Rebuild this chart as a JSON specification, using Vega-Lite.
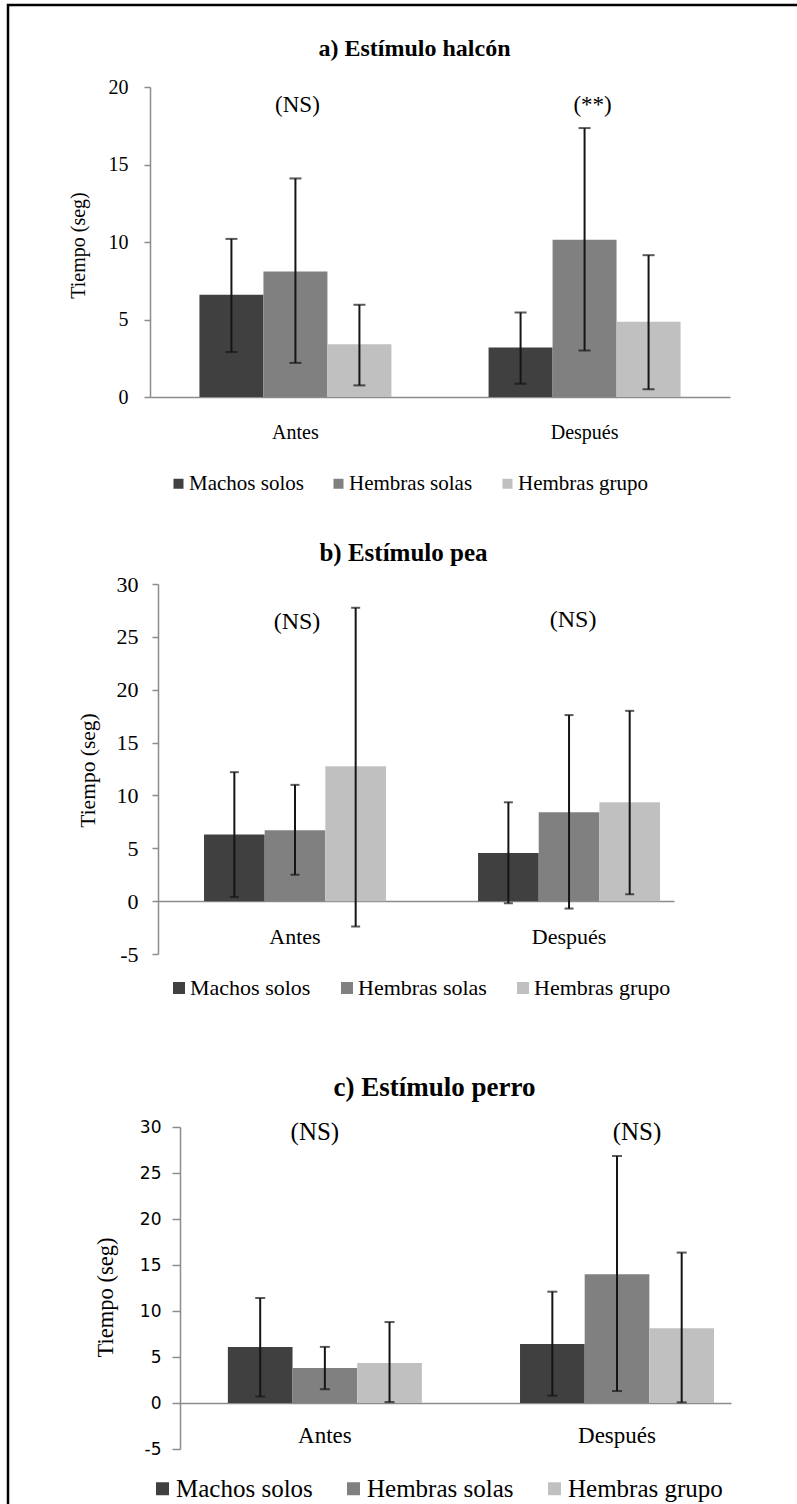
{
  "$schema": "https://vega.github.io/schema/vega-lite/v6.json",
  "width": 795,
  "height": 1505,
  "autosize": {"type": "none"},
  "padding": {"left": 8, "top": 5, "right": -6, "bottom": -6},
  "background": "white",
  "config": {
    "view": {"stroke": "black", "strokeWidth": 2.5},
    "axis": {"labelFont": "Liberation Serif", "titleFont": "Liberation Serif", "labelColor": "#000", "titleColor": "#000", "titleFontWeight": "normal", "grid": false, "domainColor": "#8c8c8c", "tickColor": "#8c8c8c", "domainWidth": 1.5, "tickWidth": 1.5},
    "legend": {"labelFont": "Liberation Serif", "labelColor": "#000", "padding": 0, "symbolType": "square", "symbolStrokeWidth": 0, "orient": "none", "direction": "horizontal", "title": null},
    "text": {"font": "Liberation Serif", "color": "#000"}
  },
  "datasets": {
    "halcon": [
      {"momento": "Antes", "grupo": "Machos solos", "media": 6.6, "lo": 2.9, "hi": 10.2},
      {"momento": "Antes", "grupo": "Hembras solas", "media": 8.1, "lo": 2.2, "hi": 14.1},
      {"momento": "Antes", "grupo": "Hembras grupo", "media": 3.4, "lo": 0.75, "hi": 5.95},
      {"momento": "Después", "grupo": "Machos solos", "media": 3.2, "lo": 0.85, "hi": 5.45},
      {"momento": "Después", "grupo": "Hembras solas", "media": 10.15, "lo": 3.0, "hi": 17.35},
      {"momento": "Después", "grupo": "Hembras grupo", "media": 4.85, "lo": 0.5, "hi": 9.15}
    ],
    "pea": [
      {"momento": "Antes", "grupo": "Machos solos", "media": 6.3, "lo": 0.4, "hi": 12.2},
      {"momento": "Antes", "grupo": "Hembras solas", "media": 6.7, "lo": 2.5, "hi": 11.0},
      {"momento": "Antes", "grupo": "Hembras grupo", "media": 12.75, "lo": -2.4, "hi": 27.75},
      {"momento": "Después", "grupo": "Machos solos", "media": 4.55, "lo": -0.2, "hi": 9.35},
      {"momento": "Después", "grupo": "Hembras solas", "media": 8.42, "lo": -0.7, "hi": 17.6},
      {"momento": "Después", "grupo": "Hembras grupo", "media": 9.35, "lo": 0.65, "hi": 18.0}
    ],
    "perro": [
      {"momento": "Antes", "grupo": "Machos solos", "media": 6.1, "lo": 0.7, "hi": 11.4},
      {"momento": "Antes", "grupo": "Hembras solas", "media": 3.8, "lo": 1.5, "hi": 6.1},
      {"momento": "Antes", "grupo": "Hembras grupo", "media": 4.35, "lo": 0.1, "hi": 8.8},
      {"momento": "Después", "grupo": "Machos solos", "media": 6.4, "lo": 0.8, "hi": 12.1},
      {"momento": "Después", "grupo": "Hembras solas", "media": 14.0, "lo": 1.3, "hi": 26.85},
      {"momento": "Después", "grupo": "Hembras grupo", "media": 8.12, "lo": 0.07, "hi": 16.35}
    ],
    "notas_a": [{"momento": "Antes", "nota": "(NS)"}, {"momento": "Después", "nota": "(**)"}],
    "notas_b": [{"momento": "Antes", "nota": "(NS)"}, {"momento": "Después", "nota": "(NS)"}],
    "notas_c": [{"momento": "Antes", "nota": "(NS)"}, {"momento": "Después", "nota": "(NS)"}]
  },
  "layer": [
    {
      "data": {"name": "halcon"},
      "layer": [
        {
          "mark": {"type": "bar"},
          "encoding": {
            "x": {"field": "momento", "type": "nominal", "sort": ["Antes", "Después"],
              "scale": {"range": [142, 722], "paddingInner": 0.336, "paddingOuter": 0.171, "align": 0.5},
              "axis": {"orient": "bottom", "offset": -1113, "ticks": false, "tickSize": 0, "labelAngle": 0, "labelFont": "Liberation Serif", "labelFontSize": 20, "labelPadding": 35, "labelBaseline": "middle", "title": "a) Estímulo halcón", "titleFont": "Liberation Serif", "titleFontSize": 24, "titleFontWeight": "bold", "titleX": 406, "titleY": -349, "titleBaseline": "middle", "titleAlign": "center"}},
            "xOffset": {"field": "grupo", "type": "nominal", "sort": ["Machos solos", "Hembras solas", "Hembras grupo"]},
            "y": {"field": "media", "type": "quantitative",
              "scale": {"domain": [0, 20], "range": [392, 82], "nice": false, "zero": false},
              "axis": {"orient": "left", "values": [0, 5, 10, 15, 20], "labelExpr": "'' + datum.value", "offset": -142, "tickSize": 6, "labelPadding": 16, "labelFont": "Liberation Serif", "labelFontSize": 20, "title": "Tiempo (seg)", "titleFont": "Liberation Serif", "titleFontSize": 20, "titleX": -72, "titleY": 240, "titleBaseline": "middle", "titleAlign": "center"}},
            "color": {"field": "grupo", "type": "nominal", "sort": ["Machos solos", "Hembras solas", "Hembras grupo"],
              "scale": {"domain": ["Machos solos", "Hembras solas", "Hembras grupo"], "range": ["#404040", "#808080", "#c0c0c0"]},
              "legend": {"orient": "none", "direction": "horizontal", "legendX": 160, "legendY": 468, "labelFont": "Liberation Serif", "labelFontSize": 21, "symbolSize": 100, "columnPadding": 24, "labelOffset": 0}}
          }
        },
        {
          "mark": {"type": "rule", "color": "#151515", "strokeWidth": 2},
          "encoding": {
            "x": {"field": "momento", "type": "nominal", "sort": ["Antes", "Después"]},
            "xOffset": {"field": "grupo", "type": "nominal", "sort": ["Machos solos", "Hembras solas", "Hembras grupo"]},
            "y": {"field": "lo", "type": "quantitative"},
            "y2": {"field": "hi"}
          }
        },
        {
          "mark": {"type": "tick", "color": "#151515", "thickness": 2, "size": 12},
          "encoding": {
            "x": {"field": "momento", "type": "nominal", "sort": ["Antes", "Después"]},
            "xOffset": {"field": "grupo", "type": "nominal", "sort": ["Machos solos", "Hembras solas", "Hembras grupo"]},
            "y": {"field": "hi", "type": "quantitative"}
          }
        },
        {
          "mark": {"type": "tick", "color": "#151515", "thickness": 2, "size": 12},
          "encoding": {
            "x": {"field": "momento", "type": "nominal", "sort": ["Antes", "Después"]},
            "xOffset": {"field": "grupo", "type": "nominal", "sort": ["Machos solos", "Hembras solas", "Hembras grupo"]},
            "y": {"field": "lo", "type": "quantitative"}
          }
        },
        {
          "data": {"name": "notas_a"},
          "transform": [{"filter": "datum.momento == 'Antes'"}],
          "mark": {"type": "text", "fontSize": 23, "baseline": "middle", "font": "Liberation Serif", "dx": 2},
          "encoding": {
            "x": {"field": "momento", "type": "nominal", "sort": ["Antes", "Después"]},
            "y": {"datum": 18.84},
            "text": {"field": "nota"}
          }
        },
        {
          "data": {"name": "notas_a"},
          "transform": [{"filter": "datum.momento == 'Después'"}],
          "mark": {"type": "text", "fontSize": 23, "baseline": "middle", "font": "Liberation Serif", "dx": 8},
          "encoding": {
            "x": {"field": "momento", "type": "nominal", "sort": ["Antes", "Después"]},
            "y": {"datum": 18.84},
            "text": {"field": "nota"}
          }
        }
      ]
    },
    {
      "data": {"name": "pea"},
      "layer": [
        {
          "mark": {"type": "bar"},
          "encoding": {
            "x": {"field": "momento", "type": "nominal", "sort": ["Antes", "Después"],
              "scale": {"range": [150, 666], "paddingInner": 0.336, "paddingOuter": 0.1095, "align": 0.767},
              "axis": {"orient": "bottom", "offset": -609, "ticks": false, "tickSize": 0, "labelAngle": 0, "labelFont": "Liberation Serif", "labelFontSize": 22, "labelPadding": 35, "labelBaseline": "middle", "title": "b) Estímulo pea", "titleFont": "Liberation Serif", "titleFontSize": 25, "titleFontWeight": "bold", "titleX": 395, "titleY": -349, "titleBaseline": "middle", "titleAlign": "center"}},
            "xOffset": {"field": "grupo", "type": "nominal", "sort": ["Machos solos", "Hembras solas", "Hembras grupo"]},
            "y": {"field": "media", "type": "quantitative",
              "scale": {"domain": [-5, 30], "range": [949, 579], "nice": false, "zero": false},
              "axis": {"orient": "left", "values": [-5, 0, 5, 10, 15, 20, 25, 30], "labelExpr": "'' + datum.value", "offset": -150, "tickSize": 6, "labelPadding": 14, "labelFont": "Liberation Serif", "labelFontSize": 22, "title": "Tiempo (seg)", "titleFont": "Liberation Serif", "titleFontSize": 21.5, "titleX": -70, "titleY": 765, "titleBaseline": "middle", "titleAlign": "center"}},
            "color": {"field": "grupo", "type": "nominal", "sort": ["Machos solos", "Hembras solas", "Hembras grupo"],
              "scale": {"domain": ["Machos solos", "Hembras solas", "Hembras grupo"], "range": ["#404040", "#808080", "#c0c0c0"]},
              "legend": {"orient": "none", "direction": "horizontal", "legendX": 160, "legendY": 972, "labelFont": "Liberation Serif", "labelFontSize": 22, "symbolSize": 144, "columnPadding": 25, "labelOffset": 0}}
          }
        },
        {
          "mark": {"type": "rule", "color": "#151515", "strokeWidth": 2},
          "encoding": {
            "x": {"field": "momento", "type": "nominal", "sort": ["Antes", "Después"]},
            "xOffset": {"field": "grupo", "type": "nominal", "sort": ["Machos solos", "Hembras solas", "Hembras grupo"]},
            "y": {"field": "lo", "type": "quantitative"},
            "y2": {"field": "hi"}
          }
        },
        {
          "mark": {"type": "tick", "color": "#151515", "thickness": 2, "size": 9},
          "encoding": {
            "x": {"field": "momento", "type": "nominal", "sort": ["Antes", "Después"]},
            "xOffset": {"field": "grupo", "type": "nominal", "sort": ["Machos solos", "Hembras solas", "Hembras grupo"]},
            "y": {"field": "hi", "type": "quantitative"}
          }
        },
        {
          "mark": {"type": "tick", "color": "#151515", "thickness": 2, "size": 9},
          "encoding": {
            "x": {"field": "momento", "type": "nominal", "sort": ["Antes", "Después"]},
            "xOffset": {"field": "grupo", "type": "nominal", "sort": ["Machos solos", "Hembras solas", "Hembras grupo"]},
            "y": {"field": "lo", "type": "quantitative"}
          }
        },
        {
          "data": {"name": "notas_b"},
          "transform": [{"filter": "datum.momento == 'Antes'"}],
          "mark": {"type": "text", "fontSize": 24, "baseline": "middle", "font": "Liberation Serif", "dx": 2},
          "encoding": {
            "x": {"field": "momento", "type": "nominal", "sort": ["Antes", "Después"]},
            "y": {"datum": 26.4},
            "text": {"field": "nota"}
          }
        },
        {
          "data": {"name": "notas_b"},
          "transform": [{"filter": "datum.momento == 'Después'"}],
          "mark": {"type": "text", "fontSize": 24, "baseline": "middle", "font": "Liberation Serif", "dx": 4},
          "encoding": {
            "x": {"field": "momento", "type": "nominal", "sort": ["Antes", "Después"]},
            "y": {"datum": 26.6},
            "text": {"field": "nota"}
          }
        }
      ]
    },
    {
      "data": {"name": "perro"},
      "layer": [
        {
          "mark": {"type": "bar"},
          "encoding": {
            "x": {"field": "momento", "type": "nominal", "sort": ["Antes", "Después"],
              "scale": {"range": [172, 723], "paddingInner": 0.336, "paddingOuter": 0.111, "align": 0.738},
              "axis": {"orient": "bottom", "offset": -107, "ticks": false, "tickSize": 0, "labelAngle": 0, "labelFont": "Liberation Serif", "labelFontSize": 23, "labelPadding": 32, "labelBaseline": "middle", "title": "c) Estímulo perro", "titleFont": "Liberation Serif", "titleFontSize": 27, "titleFontWeight": "bold", "titleX": 426, "titleY": -316, "titleBaseline": "middle", "titleAlign": "center"}},
            "xOffset": {"field": "grupo", "type": "nominal", "sort": ["Machos solos", "Hembras solas", "Hembras grupo"]},
            "y": {"field": "media", "type": "quantitative",
              "scale": {"domain": [-5, 30], "range": [1444, 1122], "nice": false, "zero": false},
              "axis": {"orient": "left", "values": [-5, 0, 5, 10, 15, 20, 25, 30], "labelExpr": "'' + datum.value", "offset": -172, "tickSize": 8, "labelPadding": 11, "labelFont": "DejaVu Sans", "labelFontSize": 17, "title": "Tiempo (seg)", "titleFont": "Liberation Serif", "titleFontSize": 22.5, "titleX": -75, "titleY": 1292, "titleBaseline": "middle", "titleAlign": "center"}},
            "color": {"field": "grupo", "type": "nominal", "sort": ["Machos solos", "Hembras solas", "Hembras grupo"],
              "scale": {"domain": ["Machos solos", "Hembras solas", "Hembras grupo"], "range": ["#404040", "#808080", "#c0c0c0"]},
              "legend": {"orient": "none", "direction": "horizontal", "legendX": 142, "legendY": 1471, "labelFont": "Liberation Serif", "labelFontSize": 25, "symbolSize": 169, "columnPadding": 28, "labelOffset": 1}}
          }
        },
        {
          "mark": {"type": "rule", "color": "#151515", "strokeWidth": 2},
          "encoding": {
            "x": {"field": "momento", "type": "nominal", "sort": ["Antes", "Después"]},
            "xOffset": {"field": "grupo", "type": "nominal", "sort": ["Machos solos", "Hembras solas", "Hembras grupo"]},
            "y": {"field": "lo", "type": "quantitative"},
            "y2": {"field": "hi"}
          }
        },
        {
          "mark": {"type": "tick", "color": "#151515", "thickness": 2, "size": 10},
          "encoding": {
            "x": {"field": "momento", "type": "nominal", "sort": ["Antes", "Después"]},
            "xOffset": {"field": "grupo", "type": "nominal", "sort": ["Machos solos", "Hembras solas", "Hembras grupo"]},
            "y": {"field": "hi", "type": "quantitative"}
          }
        },
        {
          "mark": {"type": "tick", "color": "#151515", "thickness": 2, "size": 10},
          "encoding": {
            "x": {"field": "momento", "type": "nominal", "sort": ["Antes", "Después"]},
            "xOffset": {"field": "grupo", "type": "nominal", "sort": ["Machos solos", "Hembras solas", "Hembras grupo"]},
            "y": {"field": "lo", "type": "quantitative"}
          }
        },
        {
          "data": {"name": "notas_c"},
          "transform": [{"filter": "datum.momento == 'Antes'"}],
          "mark": {"type": "text", "fontSize": 25, "baseline": "middle", "font": "Liberation Serif", "dx": -10},
          "encoding": {
            "x": {"field": "momento", "type": "nominal", "sort": ["Antes", "Después"]},
            "y": {"datum": 29.5},
            "text": {"field": "nota"}
          }
        },
        {
          "data": {"name": "notas_c"},
          "transform": [{"filter": "datum.momento == 'Después'"}],
          "mark": {"type": "text", "fontSize": 25, "baseline": "middle", "font": "Liberation Serif", "dx": 20},
          "encoding": {
            "x": {"field": "momento", "type": "nominal", "sort": ["Antes", "Después"]},
            "y": {"datum": 29.5},
            "text": {"field": "nota"}
          }
        }
      ]
    }
  ],
  "resolve": {"scale": {"x": "independent", "y": "independent", "xOffset": "independent", "color": "independent"}}
}
